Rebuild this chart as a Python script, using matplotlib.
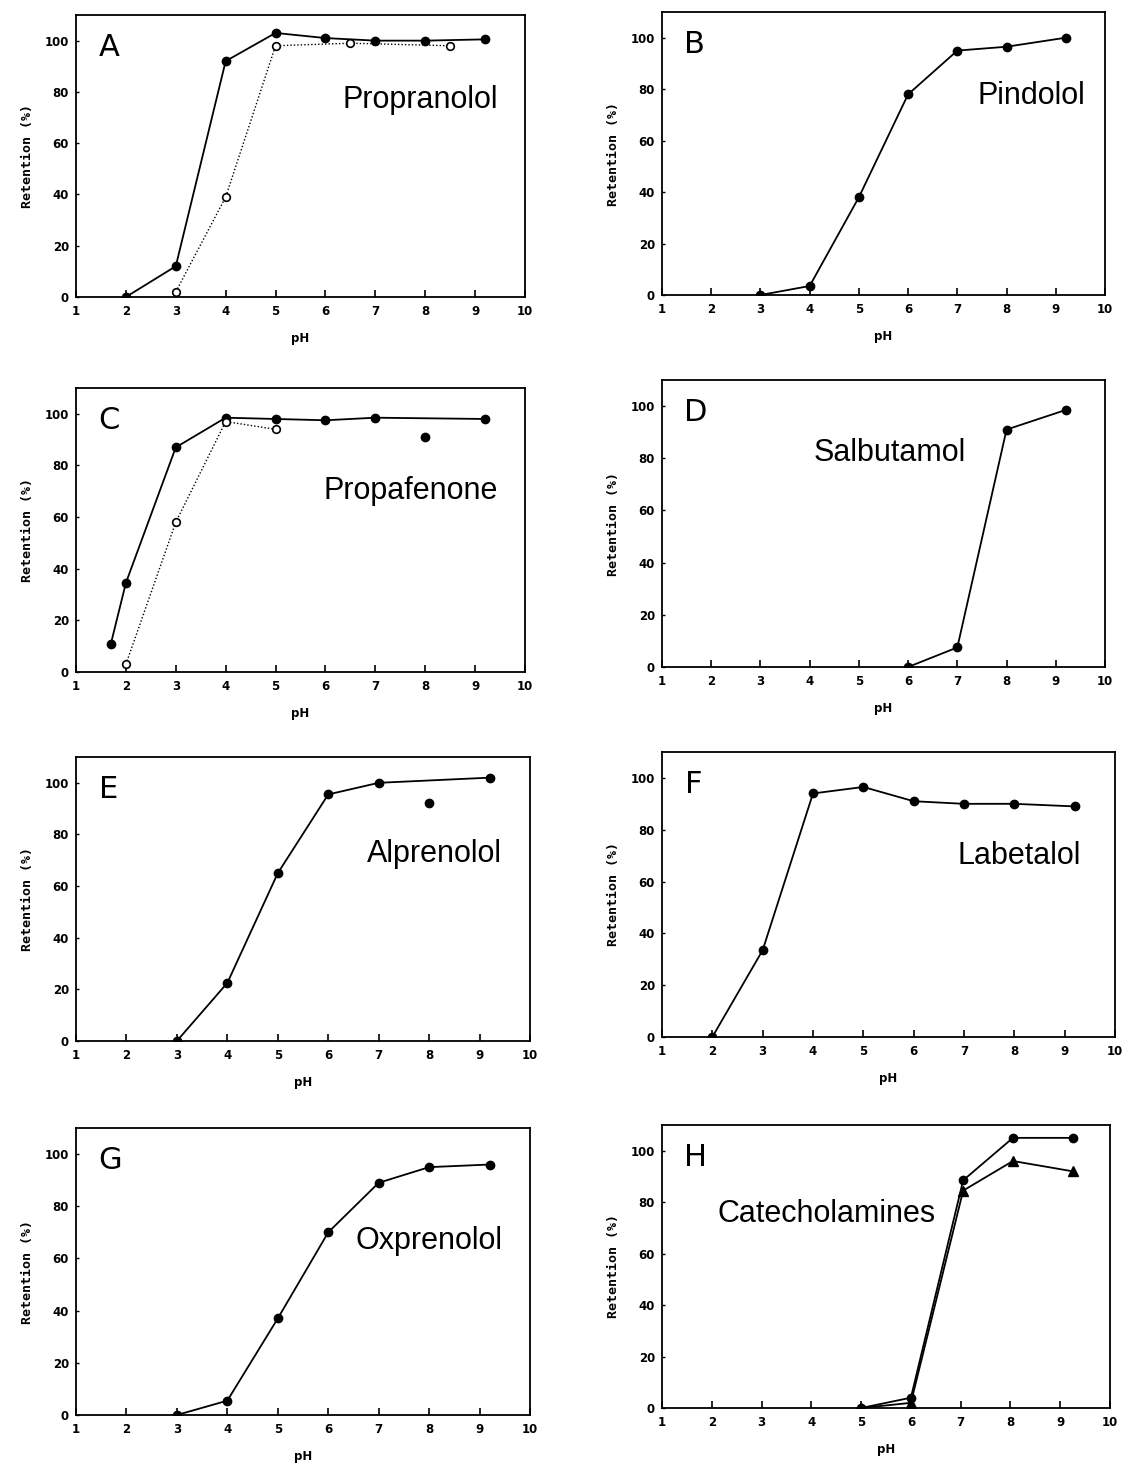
import matplotlib
matplotlib.use("Agg")
import matplotlib.pyplot as plt

# ---------------- data ----------------
A_x = [2, 3, 4, 5, 6, 7, 8, 9.2]
A_y = [0, 12, 92, 103, 101, 100, 100, 100.5]
A_open_x = [3, 4, 5, 6.5, 8.5]
A_open_y = [2, 39, 98, 99, 98]

B_x = [3, 4, 5, 6, 7, 8, 9.2]
B_y = [0, 3.5, 38, 78, 95, 96.5, 100]

C_x = [1.7, 2, 3, 4, 5, 6, 7, 9.2]
C_y = [11, 34.5, 87, 98.5, 98, 97.5, 98.5, 98]
C_extra_x = [8]
C_extra_y = [91]
C_open_x = [2, 3, 4, 5]
C_open_y = [3, 58, 97, 94]

D_x = [6, 7, 8, 9.2]
D_y = [0, 7.5, 91, 98.5]

E_x = [3, 4, 5, 6, 7, 9.2]
E_y = [0, 22.5, 65, 95.5, 100, 102]
E_extra_x = [8]
E_extra_y = [92]

F_x = [2, 3, 4, 5, 6, 7, 8, 9.2]
F_y = [0, 33.5, 94, 96.5, 91, 90, 90, 89]

G_x = [3, 4, 5, 6, 7, 8, 9.2]
G_y = [0, 5.5, 37, 70, 89, 95, 96]

H_x = [5, 6, 7.05, 8.05, 9.25]
H_circ_y = [0, 4, 88.5, 105, 105]
H_tri_y = [0, 2, 84.5, 96, 92]

letters = ["A", "B", "C", "D", "E", "F", "G", "H"]
names = ["Propranolol", "Pindolol", "Propafenone", "Salbutamol",
         "Alprenolol", "Labetalol", "Oxprenolol", "Catecholamines"]
x_ticks = [1, 2, 3, 4, 5, 6, 7, 8, 9, 10]
y_ticks = [0, 20, 40, 60, 80, 100]

# ---------------- layout (pixel boxes: x1, x10, y0, top) ----------------
W, H = 1124, 1466
boxes = {
    "A": (76, 525, 297, 15),
    "B": (662, 1105, 295, 12),
    "C": (76, 525, 672, 388),
    "D": (662, 1105, 667, 380),
    "E": (76, 530, 1041, 757),
    "F": (662, 1115, 1037, 752),
    "G": (76, 530, 1415, 1128),
    "H": (662, 1110, 1408, 1125),
}
name_pos = {
    "A": (7.9, 77), "B": (8.5, 77.5), "C": (7.7, 70), "D": (5.63, 82),
    "E": (8.1, 72.5), "F": (8.1, 70), "G": (8.0, 66.5), "H": (4.3, 75.5),
}

fig = plt.figure(figsize=(W / 100, H / 100), dpi=100)
fig.patch.set_facecolor("white")

tick_font = dict(family="DejaVu Sans", weight="bold", size=8.5)
axes = {}
for L in letters:
    x1, x10, y0, top = boxes[L]
    ax = fig.add_axes([x1 / W, 1 - y0 / H, (x10 - x1) / W, (y0 - top) / H])
    ax.set_xlim(1, 10)
    ax.set_ylim(0, 110)
    ax.set_xticks(x_ticks)
    ax.set_yticks(y_ticks)
    ax.set_xticklabels([str(t) for t in x_ticks], **tick_font)
    ax.set_yticklabels([str(t) for t in y_ticks], **tick_font)
    ax.tick_params(axis="x", direction="in", length=5, width=1.2, pad=6)
    ax.tick_params(axis="y", direction="in", length=2, width=1, pad=5)
    for s in ax.spines.values():
        s.set_linewidth(1.3)
    ax.set_xlabel("pH", family="DejaVu Sans", weight="bold", size=8.5, labelpad=10)
    ax.set_ylabel("Retention (%)", family="DejaVu Sans Mono", weight="bold",
                  size=9.5, labelpad=8)
    ax.text(1.45, 97.5, L, family="DejaVu Sans", size=22, va="center",
            ha="left")
    nx, ny = name_pos[L]
    ax.text(nx, ny, names[letters.index(L)], family="Liberation Sans",
            size=22, ha="center", va="center")
    axes[L] = ax

lk = dict(color="black", lw=1.3, marker="o", markersize=6)
dk = dict(color="black", lw=1.0, ls=(0, (1, 1.5)), marker="o", markersize=5.5,
          markerfacecolor="white", markeredgewidth=1.2)

axes["A"].plot(A_x, A_y, **lk)
axes["A"].plot(A_open_x, A_open_y, **dk)
axes["B"].plot(B_x, B_y, **lk)
axes["C"].plot(C_x, C_y, **lk)
axes["C"].plot(C_extra_x, C_extra_y, "o", color="black", markersize=6)
axes["C"].plot(C_open_x, C_open_y, **dk)
axes["D"].plot(D_x, D_y, **lk)
axes["E"].plot(E_x, E_y, **lk)
axes["E"].plot(E_extra_x, E_extra_y, "o", color="black", markersize=6)
axes["F"].plot(F_x, F_y, **lk)
axes["G"].plot(G_x, G_y, **lk)
axes["H"].plot(H_x, H_circ_y, **lk)
axes["H"].plot(H_x, H_tri_y, color="black", lw=1.3, marker="^", markersize=7)

fig.savefig("out.png", dpi=100)
